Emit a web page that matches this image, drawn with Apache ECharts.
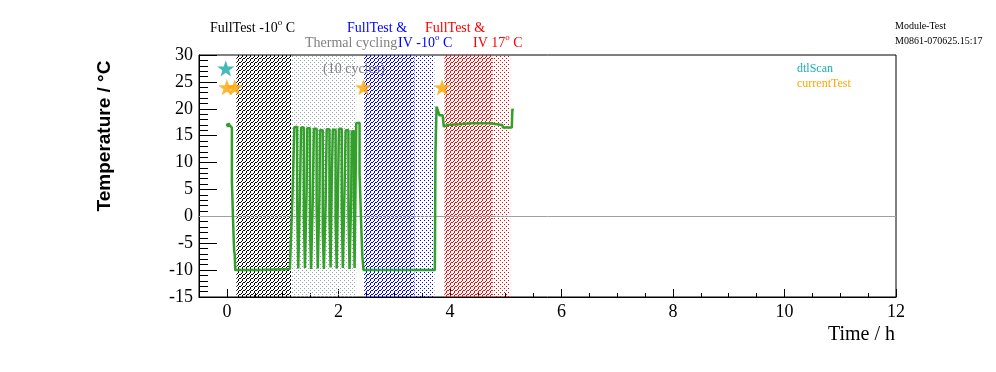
<!DOCTYPE html>
<html><head><meta charset="utf-8">
<script src="https://cdn.jsdelivr.net/npm/echarts@6/dist/echarts.min.js"></script>
<style>html,body{margin:0;padding:0;background:#fff}#c{width:996px;height:372px}</style>
</head><body><div id="c"></div>
<script>
// ---- data ----
const timeH = [0.00,0.01,0.02,0.03,0.05,0.07,0.09,0.09,0.11,0.11,0.13,0.14,0.15,0.60,1.13,
 1.15,1.15,1.18,1.18,1.21,1.21,1.26,1.26,1.28,1.28,1.31,
 1.31,1.33,1.33,1.38,1.38,1.40,1.40,1.43,
 1.43,1.44,1.44,1.49,1.49,1.51,1.51,1.54,
 1.54,1.56,1.56,1.61,1.61,1.63,1.63,1.66,
 1.66,1.67,1.67,1.72,1.72,1.74,1.74,1.77,
 1.77,1.79,1.79,1.84,1.84,1.86,1.86,1.88,
 1.88,1.90,1.90,1.95,1.95,1.97,1.97,1.99,
 1.99,2.01,2.01,2.06,2.06,2.08,2.08,2.11,
 2.11,2.13,2.13,2.18,2.18,2.20,2.20,2.23,
 2.23,2.24,2.24,2.28,2.28,2.29,2.29,2.31,
 2.31,2.32,2.32,2.38,2.38,2.40,2.41,2.43,2.45,
 2.90,2.91,2.92,3.40,3.41,3.42,3.73,
 3.74,3.76,3.78,3.80,3.81,3.87,3.89,3.96,3.98,4.40,4.41,4.42,4.71,4.73,4.94,4.95,5.11,5.12,5.13];
const tempC = [16.8,17.2,16.6,17.3,16.9,17.0,16.5,6.5,6.5,-0.5,-6.5,-7.0,-10.0,-10.0,-9.8,
 -9.8,-4.0,-4.0,5.0,5.0,16.6,16.6,3.0,3.0,-9.7,-9.7,
 4.0,4.0,16.5,16.5,0.0,0.0,-9.6,-9.6,
 5.0,5.0,16.4,16.4,-2.0,-2.0,-9.8,-9.8,
 3.0,3.0,16.3,16.3,2.0,2.0,-9.7,-9.7,
 4.0,4.0,16.0,16.0,-3.0,-3.0,-9.8,-9.8,
 2.0,2.0,16.2,16.2,0.0,0.0,-9.5,-9.5,
 6.0,6.0,16.1,16.1,-1.0,-1.0,-9.7,-9.7,
 3.0,3.0,16.3,16.3,1.0,1.0,-9.6,-9.6,
 5.0,5.0,16.0,16.0,1.0,1.0,-9.8,-9.8,
 4.0,4.0,15.8,15.8,-2.0,-2.0,-9.6,-9.6,
 8.0,8.0,17.3,17.4,8.0,8.0,-2.0,-7.5,-10.0,
 -10.0,-10.3,-10.0,-10.0,-10.3,-10.0,-10.0,
 11.3,20.4,19.8,20.0,18.8,18.8,16.7,17.0,17.3,17.3,17.1,17.3,17.3,17.1,17.0,16.5,16.5,20.0,19.6];

const dtlScanT = [-0.02];
const dtlScanY = [27.5];
const currentTestT = [0.0, 0.14, 2.45, 3.86];
const currentTestY = [24, 24, 24, 24];

// shaded phases
const phaseStart = [0.17, 1.15, 2.46, 3.36, 3.90, 4.77];
const phaseEnd   = [1.15, 2.32, 3.36, 3.72, 4.77, 5.08];
const phaseColor = ['rgb(0,0,0)', 'rgb(150,168,168)', 'rgb(0,0,255)', 'rgb(0,0,255)', 'rgb(255,0,0)', 'rgb(255,0,0)'];
const phaseFill  = ['hatch', 'dots', 'hatch', 'dots', 'hatch', 'dots'];

const xMajor = [0, 2, 4, 6, 8, 10, 12];
const xMinor = [0.5,1,1.5,2.5,3,3.5,4.5,5,5.5,6.5,7,7.5,8.5,9,9.5,10.5,11,11.5];

// ---- patterns (pixel tiles) ----
const hatchTile = [
  '..#.',
  '.#..',
  '#..#',
  '..#.'
];
const dotsTile = [
  '#...',
  '....',
  '..#.',
  '....'
];
function makePattern(color, kind) {
  const tile = kind === 'hatch' ? hatchTile : dotsTile;
  const c = document.createElement('canvas');
  c.width = tile[0].length; c.height = tile.length;
  const g = c.getContext('2d');
  const img = g.createImageData(c.width, c.height);
  const m = color.match(/\d+/g).map(Number);
  for (let y = 0; y < tile.length; y++) for (let x = 0; x < tile[y].length; x++) {
    const k = (y * c.width + x) * 4;
    if (tile[y][x] === '#') { img.data[k] = m[0]; img.data[k+1] = m[1]; img.data[k+2] = m[2]; img.data[k+3] = 255; }
    else { img.data[k] = 255; img.data[k+1] = 255; img.data[k+2] = 255; img.data[k+3] = 0; }
  }
  g.putImageData(img, 0, 0);
  return { image: c, repeat: 'repeat' };
}
const patterns = phaseStart.map((s, i) => makePattern(phaseColor[i], phaseFill[i]));

const starPath = 'path://M50 0 L61.76 33.82 L97.55 34.55 L69.02 56.18 L79.39 90.45 L50 70 L20.61 90.45 L30.98 56.18 L2.45 34.55 L38.24 33.82 Z';
const serif = '"Liberation Serif", "Times New Roman", serif';

const chart = echarts.init(document.getElementById('c'), null, { renderer: 'canvas' });

const supRich = (color) => ({
  m: { fontFamily: serif, fontSize: 14, lineHeight: 20, fill: color, color: color },
  s: { fontFamily: serif, fontSize: 9, lineHeight: 8, verticalAlign: 'top', fill: color, color: color }
});
function label(x, y, text, color, size, align) {
  return { type: 'text', x: x, y: y, z: 50, style: {
    text: text, fill: color, font: (size || 14) + 'px ' + serif,
    textAlign: align || 'left', textVerticalAlign: 'middle' } };
}
function supLabel(x, y, text, color) {
  return { type: 'text', x: x, y: y, z: 50, style: {
    text: text, rich: supRich(color), fill: color, font: '14px ' + serif,
    textAlign: 'left', textVerticalAlign: 'middle' } };
}

chart.setOption({
  animation: false,
  backgroundColor: '#fff',
  grid: { left: 199, top: 55, right: 100, bottom: 75, show: true, borderColor: '#000', borderWidth: 1, backgroundColor: 'transparent' },
  xAxis: [
    { type: 'value', min: -0.5, max: 12, position: 'bottom',
      axisLine: { show: true, onZero: false, lineStyle: { color: '#000', width: 1 } },
      axisTick: { show: true, inside: true, length: 8, customValues: xMajor, lineStyle: { color: '#000' } },
      axisLabel: { customValues: xMajor, color: '#000', fontFamily: serif, fontSize: 18, margin: 6 },
      splitLine: { show: false } },
    { type: 'value', min: -0.5, max: 12, position: 'bottom',
      axisLine: { show: false, onZero: false },
      axisTick: { show: true, inside: true, length: 4, customValues: xMinor, lineStyle: { color: '#000' } },
      axisLabel: { show: false },
      splitLine: { show: false } }
  ],
  yAxis: { type: 'value', min: -15, max: 30, interval: 5,
    axisLine: { show: true, onZero: false, lineStyle: { color: '#000', width: 1 } },
    axisTick: { show: true, inside: true, length: 18, lineStyle: { color: '#000' } },
    minorTick: { show: true, splitNumber: 5, length: 9, lineStyle: { color: '#000' } },
    axisLabel: { color: '#000', fontFamily: serif, fontSize: 18, margin: 6 },
    splitLine: { show: false } },
  series: [
    { type: 'custom', z: 1, silent: true,
      data: phaseStart.map((s, i) => [s, phaseEnd[i], i]),
      encode: { x: [0, 1] },
      renderItem: function (params, api) {
        const i = api.value(2);
        const p0 = api.coord([api.value(0), 30]);
        const p1 = api.coord([api.value(1), -15]);
        return { type: 'rect',
          shape: { x: p0[0], y: p0[1], width: p1[0] - p0[0], height: p1[1] - p0[1] },
          style: { fill: patterns[i], stroke: null } };
      } },
    { type: 'line', name: 'temperature', z: 5,
      data: timeH.map((t, i) => [t, tempC[i]]),
      showSymbol: false, symbol: 'none',
      lineStyle: { color: '#33a02c', width: 2.5 },
      markLine: { silent: true, symbol: 'none', label: { show: false },
        lineStyle: { color: '#a0a0a0', width: 1, type: 'solid' },
        data: [{ yAxis: 0 }] } },
    { type: 'scatter', name: 'dtlScan', z: 6,
      data: dtlScanT.map((t, i) => [t, dtlScanY[i]]),
      symbol: starPath, symbolSize: [17, 16], itemStyle: { color: '#16a9a9' } },
    { type: 'scatter', name: 'currentTest', z: 6,
      data: currentTestT.map((t, i) => [t, currentTestY[i]]),
      symbol: starPath, symbolSize: [17, 16], itemStyle: { color: '#ffa500' } }
  ],
  graphic: [
    supLabel(210, 28.5, '{m|FullTest -10}{s|o}{m| C}', '#000'),
    label(305, 43.5, 'Thermal cycling', '#808080'),
    supLabel(347, 28.5, '{m|FullTest &}', '#0000ff'),
    supLabel(398, 43.5, '{m|IV -10}{s|o}{m| C}', '#0000ff'),
    supLabel(425, 28.5, '{m|FullTest &}', '#ff0000'),
    supLabel(473, 43.5, '{m|IV 17}{s|o}{m| C}', '#ff0000'),
    label(323, 69, '(10 cycles)', '#808080'),
    label(895, 26, 'Module-Test', '#000', 10),
    label(895, 41, 'M0861-070625.15:17', '#000', 10),
    label(797, 69, 'dtlScan', '#19b0b0', 12),
    label(797, 84, 'currentTest', '#ffa500', 12),
    label(895, 335, 'Time / h', '#000', 20, 'right'),
    { type: 'text', x: 105, y: 136, rotation: Math.PI / 2, z: 50, style: {
      text: 'Temperature / \u00B0C', fill: '#000', font: 'bold 19px "Liberation Sans", Arial, sans-serif',
      textAlign: 'center', textVerticalAlign: 'middle' } }
  ]
});
</script>
</body></html>
